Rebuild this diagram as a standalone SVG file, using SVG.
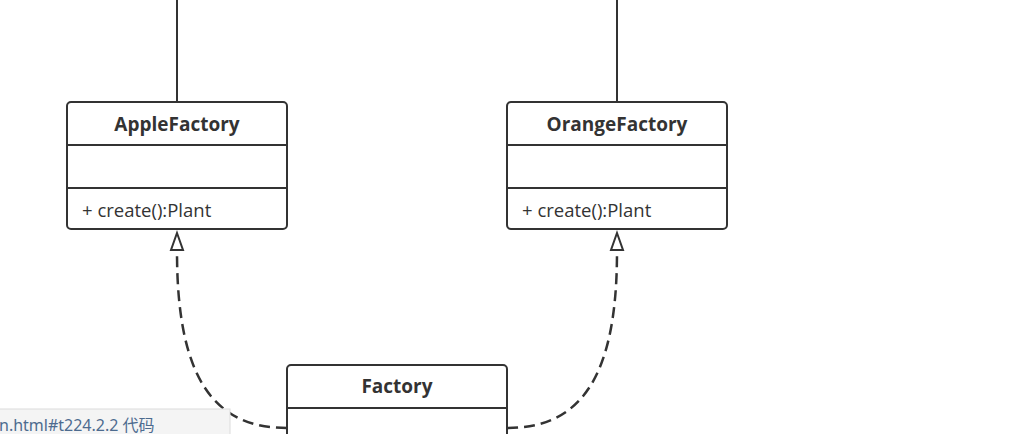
<svg xmlns="http://www.w3.org/2000/svg" width="1024" height="434" viewBox="0 0 1024 434">
<defs>
<style>
.box{fill:#fff;stroke:#333;stroke-width:2}
.div{stroke:#333;stroke-width:2}
.title{font-family:"Open Sans","Noto Sans",sans-serif;font-weight:bold;font-size:19px;fill:#333;text-anchor:middle}
.op{font-family:"Open Sans","Noto Sans",sans-serif;font-size:18.5px;fill:#333}
.line{fill:none;stroke:#333;stroke-width:2}
.dash{fill:none;stroke:#333;stroke-width:2.5;stroke-dasharray:11 6}
</style>
</defs>
<rect width="1024" height="434" fill="#fff"/>
<g id="connectors">
<line class="line" x1="177" y1="0" x2="177" y2="102"/>
<line class="line" x1="617" y1="0" x2="617" y2="102"/>
<path class="dash" d="M287 428 C215 428 177 380 177 252"/>
<path class="dash" d="M507 428 C579 428 617 380 617 252"/>
<path d="M177 233 L183 250 L171 250 Z" fill="#fff" stroke="#333" stroke-width="2"/>
<path d="M617 233 L623 250 L611 250 Z" fill="#fff" stroke="#333" stroke-width="2"/>
</g>
<g id="AppleFactory">
<rect class="box" x="67" y="102" width="220" height="127" rx="4"/>
<line class="div" x1="67" y1="145" x2="287" y2="145"/>
<line class="div" x1="67" y1="188" x2="287" y2="188"/>
<text class="title" x="177" y="131">AppleFactory</text>
<text class="op" x="82" y="217">+ create():Plant</text>
</g>
<g id="OrangeFactory">
<rect class="box" x="507" y="102" width="220" height="127" rx="4"/>
<line class="div" x1="507" y1="145" x2="727" y2="145"/>
<line class="div" x1="507" y1="188" x2="727" y2="188"/>
<text class="title" x="617" y="131">OrangeFactory</text>
<text class="op" x="522" y="217">+ create():Plant</text>
</g>
<g id="Factory">
<rect class="box" x="287" y="365" width="220" height="100" rx="4"/>
<line class="div" x1="287" y1="408" x2="507" y2="408"/>
<text class="title" x="397" y="393">Factory</text>
</g>
<g id="statusbar">
<rect x="-1" y="409" width="231" height="30" fill="#f4f4f4" stroke="#dcdcdc" stroke-width="1"/>
<text x="-1" y="431" font-family="'Noto Sans','Noto Sans CJK SC',sans-serif" font-size="16" fill="#4d6b8f">n.html#t224.2.2 代码</text>
</g>
</svg>
